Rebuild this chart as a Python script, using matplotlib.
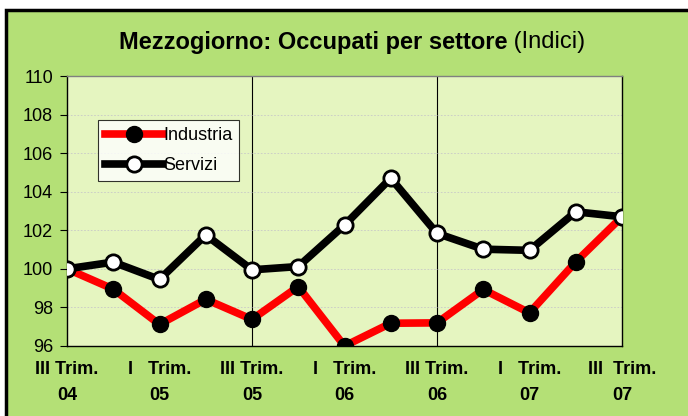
import matplotlib.pyplot as plt
from matplotlib.patches import Rectangle

plt.rcParams['font.family'] = ['Liberation Sans', 'DejaVu Sans']

# Trimestri dal III 2004 al III 2007
quarters = ["III 04", "IV 04", "I 05", "II 05", "III 05", "IV 05", "I 06",
            "II 06", "III 06", "IV 06", "I 07", "II 07", "III 07"]
industria = [100.0, 98.95, 97.12, 98.42, 97.38, 99.08, 96.0,
             97.18, 97.2, 98.93, 97.72, 100.36, 102.7]
servizi = [100.0, 100.35, 99.45, 101.76, 99.95, 100.12, 102.27,
           104.7, 101.84, 101.02, 100.96, 102.96, 102.7]
tick_pos = [0, 2, 4, 6, 8, 10, 12]
tick_labels = ["III Trim.\n04", "I   Trim.\n05", "III Trim.\n05", "I   Trim.\n06",
               "III Trim.\n06", "I   Trim.\n07", "III  Trim.\n07"]
y_ticks = [96, 98, 100, 102, 104, 106, 108, 110]

fig = plt.figure(figsize=(6.88, 4.16), dpi=100, facecolor="white")
# sfondo verde con cornice nera
fig.patches.append(Rectangle((6 / 688, -0.02), 1.0, 1 - 10 / 416 + 0.02,
                             transform=fig.transFigure, facecolor="#b4e076",
                             edgecolor="black", linewidth=2.5, zorder=-10))

ax = fig.add_axes([67 / 688, 1 - 346 / 416, (622 - 67) / 688, (346 - 76) / 416])
ax.set_facecolor("#e5f5c0")

x = list(range(len(quarters)))
ax.plot(x, industria, color="red", linewidth=5.5, marker="o", markersize=11.5,
        markerfacecolor="black", markeredgecolor="black", label="Industria", zorder=3)
ax.plot(x, servizi, color="black", linewidth=5.5, marker="o", markersize=11,
        markerfacecolor="white", markeredgecolor="black", markeredgewidth=2,
        label="Servizi", zorder=4)

for v in [4, 8]:
    ax.axvline(v, color="black", linewidth=0.8, zorder=1)

ax.set_xlim(0, 12)
ax.set_ylim(96, 110)
ax.set_yticks(y_ticks)
ax.tick_params(axis="y", labelsize=13, length=5, width=0.8, pad=5)
ax.set_xticks(tick_pos)
ax.set_xticklabels(tick_labels, fontsize=13, fontweight="bold", linespacing=1.7)
ax.tick_params(axis="x", length=0, pad=11)
ax.grid(axis="y", color="#c8c8c8", linestyle=(0, (2, 2)), linewidth=0.6)
for s in ax.spines.values():
    s.set_linewidth(1.0)
ax.spines["top"].set_color("#808080")

leg = ax.legend(loc="upper left", bbox_to_anchor=(31 / 555, 1 - 44 / 270),
                fontsize=13, frameon=True, fancybox=False, edgecolor="black",
                handlelength=3.2, handletextpad=0.0, borderpad=0.4,
                labelspacing=0.7, borderaxespad=0)
leg.get_frame().set_linewidth(0.8)

t1 = fig.text(0.5, 1 - 42 / 416, "Mezzogiorno: Occupati per settore", ha="right",
              va="center", fontsize=17, fontweight="bold")
t2 = fig.text(0.5, 1 - 42 / 416, " (Indici)", ha="left", va="center", fontsize=17)
fig.canvas.draw()
w1 = t1.get_window_extent().width
w2 = t2.get_window_extent().width
shift = (w1 - w2) / 2 / fig.bbox.width + 8 / 688
t1.set_x(0.5 + shift)
t2.set_x(0.5 + shift)

plt.savefig("out.png", dpi=100, facecolor="white")
